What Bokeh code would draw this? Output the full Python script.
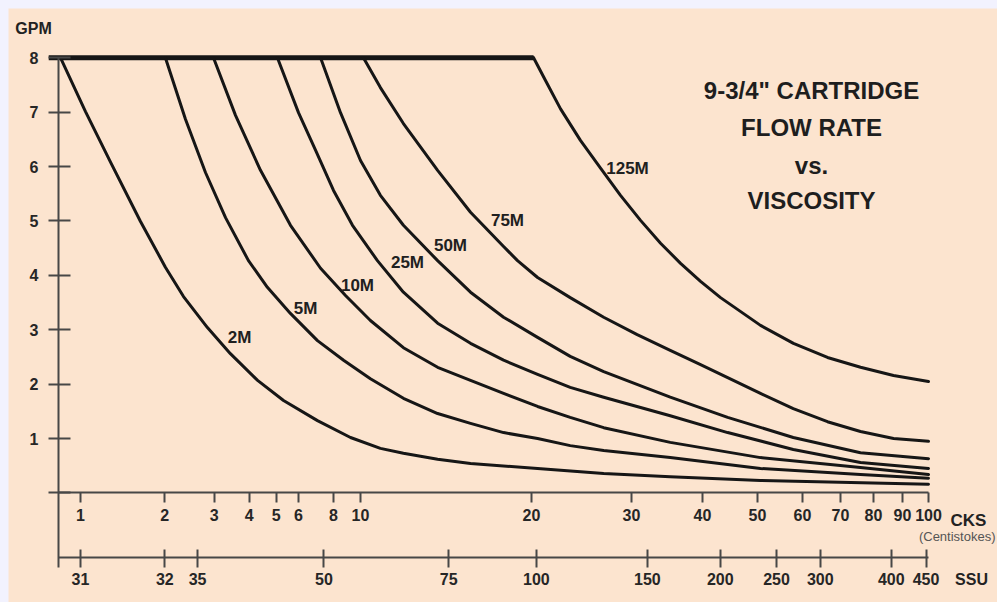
import math
from bokeh.plotting import figure
from bokeh.models import LinearAxis, FixedTicker, Range1d, Label
from bokeh.embed import file_html
from bokeh.resources import INLINE

# ---------------- data ----------------
curve_names = ["2M", "5M", "10M", "25M", "50M", "75M", "125M"]

cks_2m = [0.848, 1.042, 1.28, 1.638, 2.01, 2.333, 2.84, 3.43, 4.29, 5.31, 7.02, 9.21,
          10.84, 11.9, 13.67, 15.62, 20.5, 26.8, 35.1, 50.6, 100]
gpm_2m = [8.0, 7.01, 6.08, 4.99, 4.15, 3.61, 3.04, 2.56, 2.07, 1.70, 1.33, 1.02,
          0.82, 0.73, 0.62, 0.54, 0.45, 0.36, 0.30, 0.23, 0.16]

cks_5m = [2.01, 2.371, 2.795, 3.296, 3.98, 4.65, 5.62, 7.02, 8.70, 10.41, 11.9, 13.67,
          15.62, 17.86, 20.5, 23.4, 26.8, 35.1, 50.6, 75.9, 100]
gpm_5m = [8.0, 6.87, 5.89, 5.06, 4.27, 3.78, 3.30, 2.80, 2.44, 2.10, 1.74, 1.46,
          1.28, 1.11, 1.00, 0.87, 0.78, 0.65, 0.45, 0.34, 0.27]

cks_10m = [2.985, 3.578, 4.394, 5.623, 7.20, 8.84, 10.41, 11.9, 13.67, 15.62, 17.86,
           20.5, 23.4, 26.8, 35.1, 50.6, 75.9, 100]
gpm_10m = [8.0, 6.94, 5.93, 4.92, 4.13, 3.63, 3.17, 2.67, 2.31, 2.07, 1.83,
           1.59, 1.39, 1.20, 0.93, 0.65, 0.47, 0.34]

cks_25m = [5.05, 6.005, 6.908, 8.01, 9.363, 10.71, 11.9, 13.67, 15.62, 17.86, 20.5,
           23.4, 26.8, 35.1, 44.3, 57.8, 75.9, 100]
gpm_25m = [8.0, 6.99, 6.30, 5.56, 4.92, 4.27, 3.69, 3.12, 2.75, 2.44, 2.18,
           1.94, 1.76, 1.42, 1.11, 0.80, 0.56, 0.45]

cks_50m = [7.20, 8.483, 10.0, 10.84, 11.9, 13.67, 15.62, 17.86, 20.5, 23.4, 26.8,
           35.1, 44.3, 57.8, 75.9, 100]
gpm_50m = [8.0, 6.99, 6.11, 5.47, 4.92, 4.27, 3.69, 3.23, 2.86, 2.51, 2.23,
           1.76, 1.39, 1.02, 0.74, 0.63]

cks_75m = [10.12, 10.84, 11.9, 13.67, 15.62, 17.86, 18.9, 20.5, 23.4, 26.8, 30.7,
           35.1, 39.69, 44.3, 50.6, 57.8, 66.4, 75.9, 86.8, 100]
gpm_75m = [8.0, 7.45, 6.79, 5.93, 5.16, 4.53, 4.27, 3.96, 3.59, 3.23, 2.91,
           2.62, 2.36, 2.12, 1.83, 1.55, 1.31, 1.13, 1.00, 0.95]

cks_125m = [20.17, 21.17, 22.5, 24.39, 26.46, 28.69, 31.12, 33.75, 36.6, 39.69,
            43.04, 50.61, 57.84, 66.4, 75.92, 86.78, 100]
gpm_125m = [8.0, 7.58, 7.06, 6.48, 5.97, 5.47, 5.01, 4.59, 4.22, 3.89,
            3.59, 3.08, 2.75, 2.49, 2.31, 2.16, 2.05]

max_flow_cks = [0.77, 20.17]
max_flow_gpm = [8.0, 8.0]

gpm_ticks = [0, 1, 2, 3, 4, 5, 6, 7, 8]
cks_ticks = [1, 2, 3, 4, 5, 6, 8, 10, 20, 30, 40, 50, 60, 70, 80, 90, 100]
ssu_labels = ["31", "32", "35", "50", "75", "100", "150", "200", "250", "300", "400", "450"]
ssu_as_cks = [1.0, 2.0, 2.62, 7.4, 14.3, 20.4, 32.0, 43.0, 54.0, 64.5, 86.0, 99.0]

title_lines = ['9-3/4" CARTRIDGE', "FLOW RATE", "vs.", "VISCOSITY"]

# ---------------- scale of the original chart ----------------
# the printed CKS scale is logarithmic, with 280 units per decade
# below 10 cSt and 568 units per decade above 10 cSt
def pos(c):
    if c <= 10:
        return round(280.0 * math.log10(c), 3)
    return round(280.0 + 568.0 * math.log10(c / 10.0), 3)

CKS_MIN, CKS_MAX = 0.834, 100          # extent of the printed axes
GPM_AXIS_BOTTOM = -1.369               # the GPM axis runs down past the SSU scale
SSU_LEVEL = -1.186                     # where the SSU scale sits

PEACH = "#fce4cf"
INK = "#161616"
AXIS = "#474747"
FONT = "Liberation Sans"

p = figure(width=989, height=594,
           x_range=Range1d(-72, 917), y_range=Range1d(-2.013, 8.904),
           x_axis_type=None, y_axis_type=None,
           output_backend="svg", toolbar_location=None,
           min_border_left=0, min_border_right=0,
           min_border_top=0, min_border_bottom=0)
p.background_fill_color = PEACH
p.border_fill_color = PEACH
p.outline_line_color = None

# ---------------- axes (drawn inside the frame) ----------------
x0, x1 = pos(CKS_MIN), pos(CKS_MAX)
yax = LinearAxis(ticker=FixedTicker(ticks=gpm_ticks),
                 major_label_overrides={0: ""},
                 fixed_location=x0, bounds=(GPM_AXIS_BOTTOM, 8.0))
xcks = LinearAxis(ticker=FixedTicker(ticks=[pos(c) for c in cks_ticks]),
                  major_label_overrides={pos(c): str(c) for c in cks_ticks},
                  fixed_location=0, bounds=(x0, x1))
xssu = LinearAxis(ticker=FixedTicker(ticks=[pos(c) for c in ssu_as_cks]),
                  major_label_overrides={pos(c): s for c, s in zip(ssu_as_cks, ssu_labels)},
                  fixed_location=SSU_LEVEL, bounds=(x0, x1))
for ax in (yax, xcks, xssu):
    ax.axis_line_color = AXIS
    ax.axis_line_width = 2
    ax.major_tick_line_color = AXIS
    ax.major_tick_line_width = 2
    ax.minor_tick_line_color = None
    ax.major_label_text_font = FONT
    ax.major_label_text_font_style = "bold"
    ax.major_label_text_font_size = "16px"
    ax.major_label_text_color = "#262626"
yax.major_tick_in = 12
yax.major_tick_out = 10
yax.major_label_standoff = 10
xcks.major_tick_in = 0
xcks.major_tick_out = 10
xcks.major_label_standoff = 6
xssu.major_tick_in = 8
xssu.major_tick_out = 10
xssu.major_label_standoff = 5
p.add_layout(yax, "left")
p.add_layout(xcks, "below")
p.add_layout(xssu, "below")

# ---------------- curves ----------------
series = [(cks_2m, gpm_2m), (cks_5m, gpm_5m), (cks_10m, gpm_10m), (cks_25m, gpm_25m),
          (cks_50m, gpm_50m), (cks_75m, gpm_75m), (cks_125m, gpm_125m)]
p.line([pos(c) for c in max_flow_cks], max_flow_gpm, line_color=INK, line_width=5)
for cks, gpm in series:
    p.line([pos(c) for c in cks], gpm, line_color=INK, line_width=3,
           line_join="round", line_cap="round")

# ---------------- labels ----------------
curve_label_xy = [(159, 2.86), (225, 3.39), (277, 3.81), (327, 4.24),
                  (370, 4.55), (427, 5.01), (547, 5.97)]
for name, (lx, ly) in zip(curve_names, curve_label_xy):
    p.add_layout(Label(x=lx, y=ly, text=name, text_align="center", text_baseline="middle",
                       text_font=FONT, text_font_style="bold", text_font_size="17px",
                       text_color="#202020"))

for line, ly in zip(title_lines, [7.40, 6.72, 6.02, 5.38]):
    p.add_layout(Label(x=731, y=ly, text=line, text_align="center", text_baseline="alphabetic",
                       text_font=FONT, text_font_style="bold", text_font_size="24px",
                       text_color="#1e1e1e"))

p.add_layout(Label(x=-47, y=8.54, text="GPM", text_align="center", text_baseline="middle",
                   text_font=FONT, text_font_style="bold", text_font_size="16px",
                   text_color="#222222"))
p.add_layout(Label(x=888, y=-0.506, text="CKS", text_align="center", text_baseline="middle",
                   text_font=FONT, text_font_style="bold", text_font_size="17px",
                   text_color="#222222"))
p.add_layout(Label(x=915, y=-0.80, text="(Centistokes)", text_align="right",
                   text_baseline="middle", text_font=FONT, text_font_size="13px",
                   text_color="#555555"))
p.add_layout(Label(x=891, y=-1.59, text="SSU", text_align="center", text_baseline="middle",
                   text_font=FONT, text_font_style="bold", text_font_size="16px",
                   text_color="#222222"))

page_style = ("<style>html, body { margin: 0 !important; padding: 0 !important; "
              "background: #f2f2fe !important; overflow: hidden; } "
              "body { padding: 8px 0 0 8px !important; box-sizing: border-box; }</style>")
html = file_html(p, INLINE)
html = html.replace("</head>", page_style + "\n</head>", 1)
open("out.html", "w").write(html)
